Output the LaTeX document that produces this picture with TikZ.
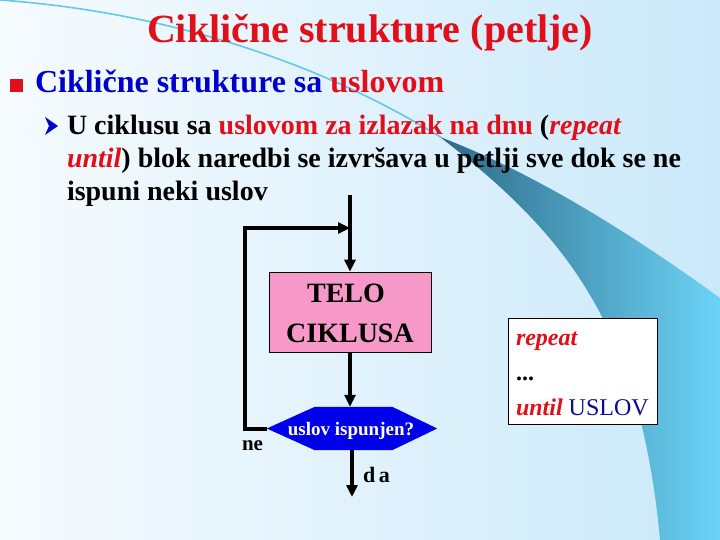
\documentclass[tikz,border=0pt]{standalone}
\usepackage{fontspec}
\setmainfont{Liberation Serif}
\usetikzlibrary{arrows.meta,calc}
\definecolor{bgl}{RGB}{246,251,254}
\definecolor{bgr}{RGB}{203,233,250}
\definecolor{ttred}{RGB}{225,15,25}
\definecolor{hblue}{RGB}{0,0,205}
\definecolor{hexblue}{RGB}{0,0,235}
\definecolor{pinkbox}{RGB}{247,153,200}
\definecolor{uslovc}{RGB}{10,10,150}
\definecolor{swdark}{RGB}{45,105,135}
\definecolor{swmid}{RGB}{80,170,210}
\definecolor{swcyan}{RGB}{108,212,247}
\definecolor{arcc}{RGB}{100,200,232}
\newcommand\myfs[1]{\fontsize{#1}{#1}\selectfont}
\begin{document}
\begin{tikzpicture}[x=1pt,y=-1pt,
  txt/.style={anchor=base west,inner sep=0pt,outer sep=0pt},
  ctxt/.style={anchor=base,inner sep=0pt,outer sep=0pt},
  flow/.style={line width=4pt,line join=miter},
  tip/.style={-{Triangle[length=12pt,width=11pt]}}]
\useasboundingbox (0,0) rectangle (720,540);
% background
\shade[left color=bgl,right color=bgr] (0,0) rectangle (720,540);
% swoosh
\shade[left color=swdark,middle color=swmid,right color=swcyan]
  (440,137) .. controls (540,175) and (640,240) .. (720,298) -- (720,540) -- (660,540)
  .. controls (640,320) and (560,230) .. (440,137) -- cycle;
\draw[arcc,line width=1.6pt] (0,0) .. controls (140,10) and (300,50) .. (442,138);
% title and text
\node[txt] (title) at (147,43) {\myfs{40}\bfseries\color{ttred}Ciklične strukture (petlje)};
\node[fill=ttred,minimum size=13,inner sep=0pt] (sq) at (16.5,85.5) {};
\node[txt] (l1) at (35,93) {\myfs{32}\bfseries\textcolor{hblue}{Ciklične strukture sa} \textcolor{ttred}{uslovom}};
\fill[hblue] (45,117) -- (58,126) -- (45,135) -- (49,126) -- cycle;
\node[txt] (l2a) at (67,135) {\myfs{28}\bfseries U ciklusu sa \textcolor{ttred}{uslovom za izlazak na dnu} (\textcolor{ttred}{\itshape repeat}};
\node[txt] (l2b) at (67,168) {\myfs{28}\bfseries\textcolor{ttred}{\itshape until}) blok naredbi se izvršava u petlji sve dok se ne};
\node[txt] (l2c) at (67,201) {\myfs{28}\bfseries ispuni neki uslov};
% flowchart
\node[draw=black,line width=0.6pt,fill=pinkbox,minimum width=162,minimum height=80,inner sep=0pt] (body) at (350,312) {};
\node[ctxt] (telo) at (346,302) {\myfs{28}\bfseries TELO};
\node[ctxt] (cikl) at (350,342) {\myfs{28}\bfseries CIKLUSA};
\node[minimum width=170,minimum height=43,inner sep=0pt] (hex) at (352,428.5) {};
\fill[hexblue] (hex.west) -- ($(hex.north west)+(48,0)$) -- ($(hex.north east)+(-45,0)$) -- (hex.east)
  -- ($(hex.south east)+(-45,0)$) -- ($(hex.south west)+(48,0)$) -- cycle;
\node[ctxt,text=white] (cond) at (351,435) {\myfs{19}\bfseries uslov ispunjen?};
\coordinate (top) at (350,195);
\coordinate (join) at (350,228);
\coordinate (lt) at (245,228);
\coordinate (lb) at (245,428.5);
\coordinate (out) at (352,497);
\draw[flow,tip] (top) -- (body.north);
\draw[flow,tip] (hex.west) -- (lb) -- (lt) -- (join);
\draw[flow,tip] (body.south) -- (body.south |- hex.north);
\draw[flow,tip] (hex.south) -- (out);
\node[txt] (ne) at (242,450) {\myfs{21}\bfseries ne};
\node[txt] (da) at (363,482) {\myfs{22}\bfseries d\,a};
% code box
\node[draw=black,line width=0.8pt,fill=white,minimum width=149,minimum height=106,inner sep=0pt] (code) at (582.5,371) {};
\node[txt] (rep) at (516,345) {\myfs{24}\bfseries\itshape\color{ttred}repeat};
\node[txt] (dots) at (516,380) {\myfs{24}\bfseries ...};
\node[txt] (until) at (516,415) {\myfs{24}\textcolor{ttred}{\bfseries\itshape until} \textcolor{uslovc}{USLOV}};
\end{tikzpicture}
\end{document}
